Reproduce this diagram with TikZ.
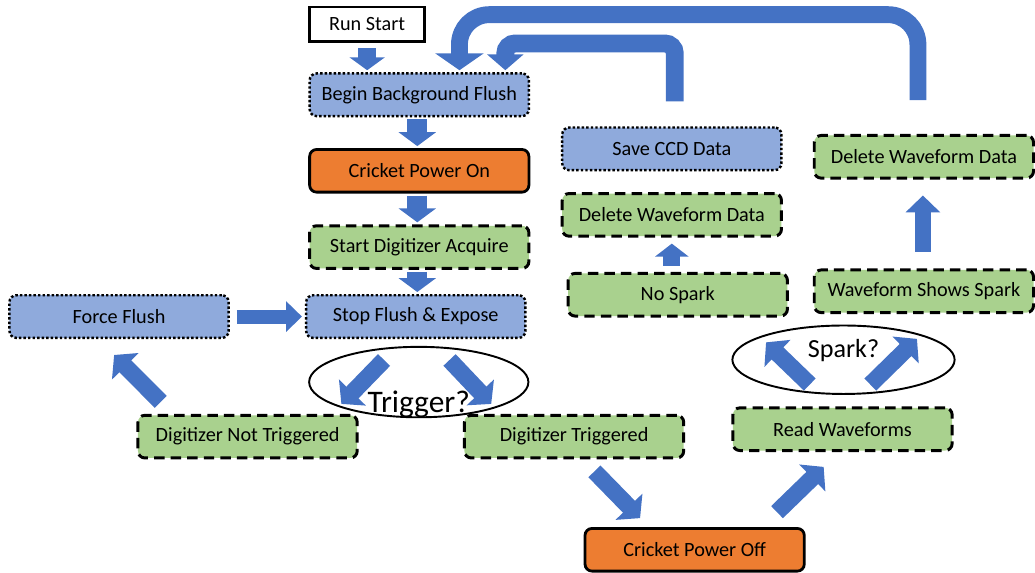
\documentclass[tikz,border=0pt]{standalone}
\usepackage{fontspec}
\setmainfont{Carlito}
\usetikzlibrary{positioning,arrows.meta,calc,shapes.geometric}
\definecolor{fcBlue}{RGB}{143,170,220}
\definecolor{fcGreen}{RGB}{169,209,142}
\definecolor{fcOrange}{RGB}{237,125,49}
\definecolor{fcArrow}{RGB}{68,114,196}

\begin{document}
\begin{tikzpicture}[
    x=0.02cm, y=-0.02cm,
    box node/.style={rectangle, rounded corners=1.4mm, minimum width=4.42cm, minimum height=0.86cm, inner sep=2pt, font=\fontsize{11.6}{13}\selectfont},
    flush node/.style={box node, draw=black, fill=fcBlue, line width=1.4pt, dash pattern=on 1.4pt off 1.2pt},
    digitizer node/.style={box node, draw=black, fill=fcGreen, line width=1.7pt, dash pattern=on 6pt off 3.5pt},
    power node/.style={box node, draw=black, fill=fcOrange, line width=1.6pt},
    start node/.style={rectangle, draw=black, fill=white, line width=1.6pt, minimum width=2.32cm, minimum height=0.7cm, font=\fontsize{11.6}{13}\selectfont},
    decision node/.style={ellipse, draw=black, line width=1.1pt, inner sep=0pt},
    flow arrow/.style={draw=fcArrow, line width=0.34cm, -{Triangle[width=0.74cm,length=0.32cm]}},
    column arrow/.style={flow arrow, line width=0.4cm, -{Triangle[width=0.74cm,length=0.28cm]}}
]
  % boxes
  \node[start node] (runstart) at (370,24.5) {Run Start};
  \node[flush node] (begin) at (422.5,95.5) {Begin Background Flush};
  \node[power node] (crickon) [below=0.62cm of begin] {Cricket Power On};
  \node[digitizer node] (startdig) [below=0.62cm of crickon] {Start Digitizer Acquire};
  \node[flush node] (stopflush) at (419,319) {Stop Flush \& Expose};
  \node[flush node] (force) at (120,319) {Force Flush};
  \node[digitizer node] (notrig) at (249.5,440) {Digitizer Not Triggered};
  \node[digitizer node] (trig) at (578.5,440) {Digitizer Triggered};
  \node[power node] (crickoff) at (700,554) {Cricket Power Off};
  \node[digitizer node] (readwf) at (849,432.5) {Read Waveforms};
  \node[digitizer node] (nospark) at (683,297) {No Spark};
  \node[digitizer node] (delleft) at (677,216.5) {Delete Waveform Data};
  \node[flush node] (saveccd) at (677,150) {Save CCD Data};
  \node[digitizer node] (wsspark) at (931,293.5) {Waveform Shows Spark};
  \node[digitizer node] (delright) at (931,158) {Delete Waveform Data};

  % decisions
  \node[decision node, minimum width=4.42cm, minimum height=1.42cm,
        label={[font=\fontsize{18}{20}\selectfont, yshift=-0.46cm]center:Trigger?}] (trigger) at (422,385) {};
  \node[decision node, minimum width=4.48cm, minimum height=1.38cm,
        label={[font=\fontsize{15}{17}\selectfont, yshift=0.18cm]center:Spark?}] (spark) at (850,362.5) {};

  % main column
  \draw[flow arrow, line width=0.36cm, -{Triangle[width=0.7cm,length=0.26cm]}] ($(runstart.south)+(0,5)$) -- ($(runstart.south |- begin.north)+(0,-2)$);
  \draw[column arrow] ($(begin.south)+(-2,2)$) -- ($(crickon.north)+(-2,-2)$);
  \draw[column arrow] ($(crickon.south)+(-2,2)$) -- ($(startdig.north)+(-2,-2)$);
  \draw[column arrow] ($(startdig.south)+(-2,2)$) -- ($(startdig.south |- stopflush.north)+(-2,-2)$);
  \draw[flow arrow, line width=0.28cm, -{Triangle[width=0.6cm,length=0.32cm]}] ($(force.east)+(7,0)$) -- ($(stopflush.west)+(-3,0)$);

  % trigger branches
  \draw[flow arrow] ($(stopflush.south)+(-32,21)$) -- ($(notrig.north)+(94.5,-10)$);
  \draw[flow arrow] ($(stopflush.south)+(34,21)$) -- ($(trig.north)+(-83.5,-10)$);
  \draw[flow arrow] ($(notrig.north)+(-87.5,-12)$) -- ($(force.south)+(-5,16)$);
  \draw[flow arrow] ($(trig.south)+(20.5,12)$) -- ($(crickoff.north)+(-55,-9)$);
  \draw[flow arrow] ($(crickoff.north)+(83,-15)$) -- ($(readwf.south)+(-19,15)$);

  % spark branches
  \draw[flow arrow] ($(readwf.north)+(-33,-22)$) -- ($(nospark.south east)+(-23,25)$);
  \draw[flow arrow] ($(readwf.north)+(28,-22)$) -- ($(wsspark.south)+(-7,25)$);
  \draw[flow arrow, -{Triangle[width=0.66cm,length=0.26cm]}] ($(nospark.north)+(-6,-6)$) -- ($(delleft.south)+(0,6)$);
  \draw[flow arrow, line width=0.32cm, -{Triangle[width=0.68cm,length=0.34cm]}] ($(wsspark.north)+(-1,-17)$) -- ($(delright.south)+(-1,16)$);

  % back to the flush
  \draw[flow arrow, line width=0.36cm, rounded corners=0.2cm, -{Triangle[width=0.72cm,length=0.32cm]}]
    ($(saveccd.north)+(3,-25)$) |- ($(begin.north east)+(-25,-29)$) -- ($(begin.north east)+(-25,-2)$);
  \draw[flow arrow, rounded corners=0.6cm, -{Triangle[width=0.96cm,length=0.34cm]}]
    ($(delright.north)+(-6,-34)$) |- ($(begin.north)+(40.5,-58)$) -- ($(begin.north)+(40.5,-2)$);

  \useasboundingbox (0,0) rectangle (1035,576);
\end{tikzpicture}
\end{document}
